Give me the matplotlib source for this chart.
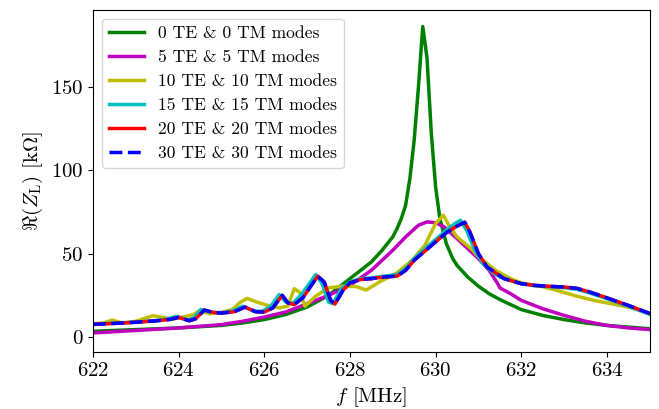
import matplotlib
matplotlib.use("Agg")
import matplotlib.pyplot as plt

plt.rcParams['font.family'] = 'serif'
plt.rcParams['font.serif'] = ['cmr10', 'DejaVu Serif']
plt.rcParams['mathtext.fontset'] = 'cm'
plt.rcParams['axes.unicode_minus'] = False
plt.rcParams['axes.formatter.use_mathtext'] = True

# 0 TE & 0 TM modes
f0 = [622.0, 623.0, 624.0, 625.0, 625.5, 626.0, 626.5, 627.0, 627.5, 628.0, 628.25, 628.5,
      628.75, 629.0, 629.1, 629.2, 629.3, 629.4, 629.5, 629.6, 629.7, 629.8,
      629.9, 630.0, 630.1, 630.25, 630.4, 630.5, 630.75, 631.0, 631.25, 631.5, 632.0,
      632.5, 633.0, 633.5, 634.0, 634.5, 635.0]
z0 = [3.5, 4.5, 5.5, 7.0, 8.5, 10.5, 13.5, 18.0, 25.0, 35.0, 40.0, 45.0,
      52.0, 60.0, 65.0, 71.0, 79.0, 95.0, 118.0, 150.0, 186.0, 167.0,
      122.0, 90.0, 71.0, 56.0, 47.0, 43.0, 36.0, 30.5, 26.0, 22.5, 16.5,
      13.0, 10.5, 8.5, 7.0, 6.0, 5.0]

# 5 TE & 5 TM modes
f5 = [622.0, 623.0, 624.0, 624.5, 625.0, 625.5, 626.0, 626.5, 627.0, 627.5, 628.0,
      628.5, 629.0, 629.3, 629.6, 629.8, 630.0, 630.2, 630.5, 630.75, 631.0, 631.25,
      631.45, 631.5, 631.75, 632.0, 632.5, 633.0, 633.5, 634.0, 634.5, 635.0]
z5 = [2.5, 4.0, 5.5, 6.5, 7.5, 9.5, 12.0, 15.0, 20.0, 25.0, 31.0,
      40.0, 52.0, 60.0, 67.0, 69.0, 68.5, 66.0, 59.0, 53.0, 47.0, 40.0,
      32.0, 29.5, 26.0, 22.0, 17.0, 13.0, 9.5, 7.0, 5.5, 4.5]

# 10 TE & 10 TM modes
f10 = [622.0, 622.25, 622.45, 622.7, 623.0, 623.4, 623.85, 624.1, 624.35, 624.5, 624.72,
       625.0, 625.25, 625.45, 625.6, 625.8, 626.05, 626.35, 626.55, 626.7, 626.82, 626.95,
       627.2, 627.5, 627.85, 628.15, 628.38, 628.7, 629.1, 629.45, 629.75, 630.0, 630.18,
       630.33, 630.5, 630.85, 631.0, 631.4, 631.75, 632.0, 632.5, 632.9, 633.3, 633.7,
       634.1, 634.5, 635.0]
z10 = [8.0, 8.5, 10.2, 8.4, 9.5, 12.8, 10.8, 12.0, 13.5, 16.0, 14.0,
       14.8, 16.5, 21.0, 23.2, 21.2, 19.2, 17.5, 18.5, 29.0, 27.0, 18.5,
       24.5, 29.5, 30.6, 30.2, 28.2, 33.2, 38.5, 46.0, 55.0, 68.0, 73.0,
       66.0, 60.0, 52.5, 48.0, 40.0, 35.0, 32.5, 30.2, 27.5, 24.5, 22.0,
       20.0, 18.0, 14.2]

# 15 TE & 15 TM modes
f15 = [622.0, 622.5, 623.0, 623.5, 623.75, 623.95, 624.2, 624.35, 624.52, 624.75, 625.0,
       625.25, 625.5, 625.75, 625.95, 626.15, 626.35, 626.5, 626.65, 626.85, 627.05, 627.2,
       627.35, 627.5, 627.6, 627.8, 628.0, 628.25, 628.5, 628.8, 629.1, 629.3, 629.5,
       629.75, 630.0, 630.25, 630.45, 630.58, 630.72, 630.9, 631.1, 631.3, 631.5, 631.8,
       632.0, 632.3, 632.6, 633.0, 633.3, 633.6, 634.0, 634.5, 635.0]
z15 = [7.8, 8.4, 9.0, 10.0, 11.0, 12.5, 10.2, 11.5, 16.5, 15.0, 14.6,
       15.6, 18.5, 15.5, 15.5, 18.5, 25.5, 21.0, 20.0, 25.0, 32.0, 37.5,
       32.0, 21.0, 20.0, 29.0, 33.0, 35.0, 35.5, 36.5, 37.5, 41.0, 47.0,
       53.0, 58.5, 64.0, 68.0, 70.0, 64.0, 53.0, 44.0, 39.5, 36.0, 33.5,
       32.0, 30.8, 30.3, 29.6, 28.6, 26.4, 23.0, 18.5, 13.6]

# 20 TE & 20 TM modes
f20 = [622.0, 622.5, 623.0, 623.5, 623.8, 624.0, 624.25, 624.4, 624.6, 624.8, 625.0,
       625.3, 625.55, 625.8, 626.0, 626.2, 626.42, 626.55, 626.7, 626.9, 627.1, 627.25,
       627.4, 627.55, 627.65, 627.85, 628.0, 628.25, 628.5, 628.8, 629.1, 629.3, 629.5,
       629.75, 630.0, 630.25, 630.5, 630.68, 630.8, 631.0, 631.2, 631.4, 631.6, 631.8,
       632.0, 632.3, 632.6, 633.0, 633.3, 633.6, 634.0, 634.5, 635.0]
z20 = [7.6, 8.2, 8.9, 9.8, 10.6, 11.8, 9.8, 11.0, 16.2, 14.8, 14.4,
       15.2, 18.0, 15.2, 15.0, 17.5, 25.0, 20.5, 19.5, 23.5, 31.0, 36.5,
       33.0, 22.0, 19.8, 28.5, 32.5, 34.5, 35.0, 36.0, 36.5, 40.0, 46.0,
       51.5, 57.0, 62.5, 66.5, 68.8, 63.0, 50.0, 42.0, 38.5, 35.0, 33.5,
       32.0, 31.0, 30.5, 30.0, 29.2, 27.0, 23.5, 19.0, 14.2]

# 30 TE & 30 TM modes
f30 = f20
z30 = [7.6, 8.2, 8.9, 9.8, 10.6, 11.8, 9.8, 11.0, 16.2, 14.8, 14.4,
       15.2, 18.0, 15.2, 15.0, 17.5, 25.0, 20.5, 19.5, 23.5, 31.0, 36.5,
       33.0, 22.0, 19.8, 28.5, 32.5, 34.5, 35.0, 36.0, 36.5, 40.0, 46.0,
       51.5, 57.0, 62.5, 66.5, 68.8, 63.0, 50.0, 42.0, 38.5, 35.0, 33.5,
       32.0, 31.0, 30.5, 30.0, 29.2, 27.0, 23.5, 19.0, 14.2]

fig = plt.figure(figsize=(6.59, 4.09), dpi=100)
ax = fig.add_axes([0.141, 0.139, 0.845, 0.837])

lw = 2.5
ax.plot(f0, z0, color='g', lw=lw, label='0 TE & 0 TM modes')
ax.plot(f5, z5, color='m', lw=lw, label='5 TE & 5 TM modes')
ax.plot(f10, z10, color='y', lw=lw, label='10 TE & 10 TM modes')
ax.plot(f15, z15, color='c', lw=lw, label='15 TE & 15 TM modes')
ax.plot(f20, z20, color='r', lw=lw, label='20 TE & 20 TM modes')
ax.plot(f30, z30, color='b', lw=lw, ls='--', label='30 TE & 30 TM modes')

ax.set_xlim(622, 635)
ax.set_ylim(-9, 196)
ax.set_xticks([622, 624, 626, 628, 630, 632, 634])
ax.set_yticks([0, 50, 100, 150])
ax.tick_params(labelsize=15)
ax.set_xlabel(r'$f$ [MHz]', fontsize=15)
ax.set_ylabel(r'$\Re(Z_\mathrm{L})$ [k$\Omega$]', fontsize=15)
ax.legend(loc='upper left', fontsize=12.6)

fig.savefig('out.png', dpi=100)
